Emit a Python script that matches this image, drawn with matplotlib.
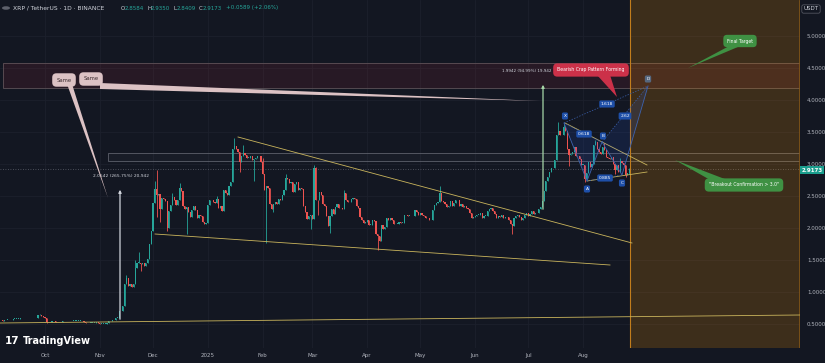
import numpy as np
import pandas as pd
import matplotlib
matplotlib.use('Agg')
import matplotlib.pyplot as plt
from matplotlib.patches import Rectangle, Polygon

# XRP/USDT daily closes, Binance, 2024-09-05 .. 2025-08-27
first_open = 0.55
sep24 = [0.56, 0.56, 0.55, 0.56, 0.57, 0.57, 0.56, 0.57, 0.58, 0.58, 0.58, 0.58, 0.59,
         0.59, 0.59, 0.59, 0.59, 0.59, 0.59, 0.59, 0.59, 0.60, 0.64, 0.64, 0.63, 0.61]
oct24 = [0.59, 0.53, 0.53, 0.53, 0.54, 0.54, 0.53, 0.53, 0.53, 0.53, 0.54, 0.54, 0.54, 0.55,
         0.54, 0.55, 0.55, 0.55, 0.55, 0.55, 0.55, 0.54, 0.53, 0.52, 0.51, 0.52, 0.52, 0.52,
         0.52, 0.53, 0.52]
nov24 = [0.50, 0.50, 0.50, 0.50, 0.51, 0.54, 0.55, 0.56, 0.56, 0.60, 0.60, 0.70, 0.71, 0.78,
         1.12, 1.22, 1.10, 1.13, 1.08, 1.12, 1.38, 1.46, 1.46, 1.43, 1.45, 1.41, 1.45, 1.51,
         1.75, 1.95]
dec24 = [2.39, 2.61, 2.52, 2.53, 2.29, 2.47, 2.45, 2.42, 2.00, 2.27, 2.36, 2.48, 2.43, 2.36,
         2.44, 2.62, 2.58, 2.35, 2.29, 2.33, 2.25, 2.17, 2.28, 2.35, 2.28, 2.15, 2.20, 2.19,
         2.09, 2.07, 2.08]
jan25 = [2.36, 2.44, 2.43, 2.41, 2.39, 2.45, 2.32, 2.34, 2.27, 2.59, 2.55, 2.52, 2.65, 2.72,
         3.23, 3.28, 3.23, 3.19, 3.03, 3.12, 3.17, 3.14, 3.10, 3.10, 3.12, 3.07, 3.08, 3.10,
         3.13, 3.12, 3.03]
feb25 = [2.85, 2.60, 2.66, 2.62, 2.37, 2.30, 2.37, 2.41, 2.38, 2.45, 2.43, 2.52, 2.59, 2.78,
         2.77, 2.70, 2.72, 2.56, 2.69, 2.72, 2.60, 2.63, 2.61, 2.35, 2.25, 2.14, 2.18, 2.20]
mar25 = [2.14, 2.94, 2.44, 2.43, 2.57, 2.51, 2.37, 2.34, 2.18, 2.03, 2.18, 2.29, 2.22, 2.33,
         2.37, 2.31, 2.31, 2.29, 2.55, 2.44, 2.40, 2.41, 2.46, 2.47, 2.45, 2.34, 2.32, 2.17,
         2.12, 2.08, 2.09]
apr25 = [2.13, 2.05, 2.05, 2.12, 2.11, 1.91, 1.87, 1.80, 2.04, 1.99, 2.01, 2.15, 2.13, 2.15,
         2.12, 2.06, 2.07, 2.07, 2.09, 2.08, 2.08, 2.20, 2.20, 2.19, 2.19, 2.18, 2.18, 2.28,
         2.25, 2.20]
may25 = [2.23, 2.21, 2.19, 2.16, 2.15, 2.12, 2.13, 2.28, 2.36, 2.39, 2.40, 2.55, 2.42, 2.40,
         2.38, 2.33, 2.35, 2.42, 2.34, 2.39, 2.43, 2.44, 2.35, 2.38, 2.33, 2.34, 2.31, 2.29,
         2.23, 2.16, 2.17]
jun25 = [2.19, 2.21, 2.21, 2.23, 2.16, 2.19, 2.19, 2.26, 2.30, 2.32, 2.26, 2.22, 2.15, 2.18,
         2.17, 2.21, 2.16, 2.17, 2.17, 2.13, 2.07, 2.03, 2.16, 2.18, 2.20, 2.17, 2.13, 2.16,
         2.20, 2.24]
jul25 = [2.19, 2.22, 2.27, 2.22, 2.23, 2.23, 2.30, 2.33, 2.42, 2.58, 2.74, 2.80, 2.88, 2.93,
         2.94, 3.06, 3.45, 3.51, 3.45, 3.46, 3.58, 3.52, 3.23, 3.14, 3.16, 3.19, 3.26, 3.12,
         3.13, 3.08, 2.99]
aug25 = [2.99, 2.76, 2.86, 3.03, 2.96, 3.00, 3.30, 3.34, 3.24, 3.18, 3.16, 3.27, 3.22, 3.11,
         3.10, 3.08, 3.11, 3.00, 2.91, 2.99, 2.87, 3.04, 3.02, 2.99, 2.83, 2.8584, 2.9173]

# wick extremes where they stick out of the body
wick_hi = {'2024-09-28': 0.66, '2024-11-16': 1.27, '2024-11-21': 1.50, '2024-11-23': 1.63,
           '2024-12-02': 2.73, '2024-12-03': 2.90, '2024-12-16': 2.70, '2024-12-12': 2.55,
           '2025-01-06': 2.50, '2025-01-16': 3.40, '2025-01-21': 3.30, '2025-02-01': 3.10,
           '2025-02-14': 2.84, '2025-03-02': 2.99, '2025-03-03': 2.96, '2025-03-19': 2.59,
           '2025-05-12': 2.65, '2025-07-18': 3.66, '2025-07-21': 3.63, '2025-08-08': 3.38,
           '2025-08-13': 3.33, '2025-08-22': 3.09, '2025-08-27': 2.935}
wick_lo = {'2024-10-02': 0.51, '2024-11-24': 1.33, '2024-12-03': 2.17, '2024-12-05': 2.10,
           '2024-12-09': 1.96, '2024-12-20': 1.90, '2025-01-19': 2.88, '2025-01-27': 2.73,
           '2025-02-03': 1.77, '2025-02-07': 2.25, '2025-02-28': 1.99, '2025-03-04': 2.21,
           '2025-03-11': 1.92, '2025-04-07': 1.65, '2025-04-09': 1.80, '2025-06-22': 1.91,
           '2025-07-24': 2.97, '2025-08-02': 2.72, '2025-08-19': 2.85, '2025-08-25': 2.80,
           '2025-08-27': 2.8409}

ytick_vals = [0.5, 1.0, 1.5, 2.0, 2.5, 3.0, 3.5, 4.0, 4.5, 5.0]
month_labels = ['Oct', 'Nov', 'Dec', '2025', 'Feb', 'Mar', 'Apr', 'May', 'Jun', 'Jul', 'Aug']

BG = '#131722'
UP = '#26a69a'
DN = '#ef5350'
TXT = '#b2b5be'
LINE = '#c9b45c'

closes = sep24 + oct24 + nov24 + dec24 + jan25 + feb25 + mar25 + apr25 + may25 + jun25 + jul25 + aug25
dates = pd.date_range('2024-09-05', periods=len(closes), freq='D')
t0 = pd.Timestamp('2024-10-01')
day = np.array((dates - t0).days, dtype=float)
opens = [first_open] + closes[:-1]
highs, lows = [], []
for dt, o, c in zip(dates, opens, closes):
    k = dt.strftime('%Y-%m-%d')
    highs.append(wick_hi.get(k, max(o, c)))
    lows.append(wick_lo.get(k, min(o, c)))
opens = np.array(opens); closes = np.array(closes)
cols = [UP if c >= o else DN for o, c in zip(opens, closes)]

W, H = 825, 363
fig = plt.figure(figsize=(8.25, 3.63), dpi=100, facecolor=BG)
ax = fig.add_axes([0, 15 / H, 800 / W, 348 / H])
ax.set_facecolor(BG)

# screen position -> chart coords (for drawing tools)
def P(x, y):
    return ((x - 45) / 1.77, 5 - (y - 36) / 64)

def F(x, y):
    return (x / W, 1 - y / H)

ax.set_xlim(P(0, 0)[0], P(800, 0)[0])
ax.set_ylim(P(0, 348)[1], P(0, 0)[1])
for s in ax.spines.values():
    s.set_visible(False)

mstarts = pd.date_range('2024-10-01', periods=len(month_labels), freq='MS')
ax.set_xticks((mstarts - t0).days.values.astype(float))
ax.set_xticklabels(month_labels)
ax.set_yticks(ytick_vals)
ax.set_yticklabels([f'{v:.4f}' for v in ytick_vals])
ax.yaxis.tick_right()
ax.tick_params(length=0, labelsize=4, colors=TXT)
ax.tick_params(axis='y', pad=5)
ax.tick_params(axis='x', pad=3.5)
ax.grid(True, color='#1c202c', lw=0.6)
ax.set_axisbelow(True)

# zones
x0, y0 = P(3, 88); x1, y1 = P(800, 63)
ax.add_patch(Rectangle((x0, y0), x1 - x0, y1 - y0, fc='#f23645', alpha=0.09, lw=0, zorder=1))
ax.add_patch(Rectangle((x0, y0), x1 - x0, y1 - y0, fc='none', ec='#5e5258', lw=0.6, zorder=1))
x0, y0 = P(108, 161); x1, y1 = P(800, 153)
ax.add_patch(Rectangle((x0, y0), x1 - x0, y1 - y0, fc='#787b86', alpha=0.06, lw=0, zorder=1))
ax.add_patch(Rectangle((x0, y0), x1 - x0, y1 - y0, fc='none', ec='#5d606b', lw=0.6, zorder=1))
ax.axhline(closes[-1], color='#5d606b', lw=0.6, ls=(0, (1, 2)), zorder=1)

# forecast box
xa, xb = P(630, 0)[0], P(799, 0)[0]
ax.axvspan(xa, xb, color='#ff9800', alpha=0.18, lw=0, zorder=1)
ax.axvline(xa, color='#c27d1c', lw=0.8, zorder=2)
ax.axvline(xb, color='#8a5a17', lw=0.6, zorder=2)

# candles
ax.vlines(day, lows, highs, colors=cols, lw=0.6, zorder=3)
body = np.maximum(np.abs(closes - opens), 0.008)
ax.bar(day, body, bottom=np.minimum(opens, closes), width=0.66, color=cols, lw=0, zorder=3)

# trend lines
for a, b in [((238, 137), (632, 243)), ((155, 234), (610, 265)), ((0, 323), (800, 315)),
             ((565, 123), (647, 165)), ((587, 181), (647, 172))]:
    pa, pb = P(*a), P(*b)
    ax.plot([pa[0], pb[0]], [pa[1], pb[1]], color=LINE, lw=0.6, zorder=4)

# measure arrows
for xm, yb, yt, c in [(120, 322, 187, '#d1d4dc'), (543, 212, 82, '#a5d6a7')]:
    ax.annotate('', xy=P(xm, yt), xytext=P(xm, yb),
                arrowprops=dict(arrowstyle='-|>', color=c, lw=0.9, mutation_scale=4), zorder=4)
ax.text(*P(121, 176), '2.0542 (265.75%) 20,942', color='#d1d4dc', fontsize=3.2, ha='center', va='center', zorder=5)
ax.text(*P(527, 71), '1.9942 (94.99%) 19,942', color='#d1d4dc', fontsize=3.0, ha='center', va='center', zorder=5)

# XABCD pattern
pts = {'X': (564, 123), 'A': (587, 181), 'B': (602, 142), 'C': (622, 175), 'D': (648, 86)}
PB = '#3d63b0'
for tri in [('X', 'A', 'B'), ('B', 'C', 'D')]:
    ax.add_patch(Polygon([P(*pts[k]) for k in tri], closed=True, fc='#2962ff', alpha=0.12, lw=0, zorder=4))
seq = [P(*pts[k]) for k in 'XABCD']
ax.plot([p[0] for p in seq], [p[1] for p in seq], color=PB, lw=0.6, zorder=4)
for a, b in [('X', 'B'), ('A', 'C'), ('B', 'D'), ('X', 'D')]:
    pa, pb = P(*pts[a]), P(*pts[b])
    ax.plot([pa[0], pb[0]], [pa[1], pb[1]], color=PB, lw=0.5, ls=(0, (2, 2)), zorder=4)
lab_pos = {'X': (565, 116), 'A': (587, 189), 'B': (603, 136), 'C': (622, 183), 'D': (648, 79),
           '0.618': (584, 134), '0.885': (605, 178), '1.618': (607, 104), '2.62': (625, 116)}
for k, (lx, ly) in lab_pos.items():
    fc = '#56677f' if k == 'D' else '#1e4fa8'
    ax.text(*P(lx, ly), k, color='white', fontsize=3.2, ha='center', va='center', zorder=7,
            bbox=dict(boxstyle='round,pad=0.35', fc=fc, ec='none'))

# callouts
def callout(text, cx, cy, base, tip, fc, tc, fs=3.4, pad=0.6):
    poly = [P(*base[0]), P(*tip), P(*base[1])]
    ax.add_patch(Polygon(poly, closed=True, fc=fc, ec='none', zorder=6))
    ax.text(*P(cx, cy), text, color=tc, fontsize=fs, ha='center', va='center', zorder=7,
            bbox=dict(boxstyle=f'round,pad={pad}', fc=fc, ec='none'))

callout('Same', 64, 80, [(67, 84), (72, 84)], (108, 198), '#dcc2c4', '#3a2a2e', fs=3.8, pad=0.8)
callout('Same', 91, 79, [(100, 83), (100, 89)], (540, 101), '#dcc2c4', '#3a2a2e', fs=3.8, pad=0.8)
callout('Bearish Crap Pattern Forming', 591, 70, [(597, 75), (610, 75)], (617, 97), '#cc3149', 'white', fs=3.3, pad=0.9)
callout('Final Target', 740, 41, [(733, 44), (745, 44)], (688, 68), '#3f9143', 'white', fs=3.3, pad=0.8)
callout('"Breakout Confirmation > 3.0"', 744, 185, [(712, 181), (730, 181)], (675, 160), '#3f9143', 'white', fs=3.3, pad=0.9)

# header
fig.patches.append(plt.Circle(F(6, 8), 4 / W, transform=fig.transFigure, fc='#5d606b', ec='none'))
fig.text(*F(13, 8), 'XRP / TetherUS · 1D · BINANCE', color='#d1d4dc', fontsize=4.3, va='center')
hx = [(121, 'O', '2.8584'), (147, 'H', '2.9350'), (173, 'L', '2.8409'), (199, 'C', '2.9173')]
for x, l, v in hx:
    fig.text(*F(x, 8), l, color='#d1d4dc', fontsize=4.0, va='center')
    fig.text(*F(x + 4, 8), v, color=UP, fontsize=4.0, va='center')
fig.text(*F(226, 8), '+0.0589 (+2.06%)', color=UP, fontsize=4.0, va='center')

# price axis extras
fig.text(*F(811, 9), 'USDT', color='#d1d4dc', fontsize=4, ha='center', va='center',
         bbox=dict(boxstyle='round,pad=0.3', fc=BG, ec='#5d606b', lw=0.5))
fig.text(*F(812, 170), f'{closes[-1]:.4f}', color='white', fontsize=4, ha='center', va='center',
         fontweight='bold', bbox=dict(boxstyle='square,pad=0.3', fc='#1b9e8e', ec='none'))

# logo
fig.text(*F(5, 341), '17', color='white', fontsize=7.5, fontweight='bold', va='center')
fig.text(*F(23, 341), 'TradingView', color='white', fontsize=7, fontweight='bold', va='center')

fig.savefig('out.png', dpi=100, facecolor=BG)
